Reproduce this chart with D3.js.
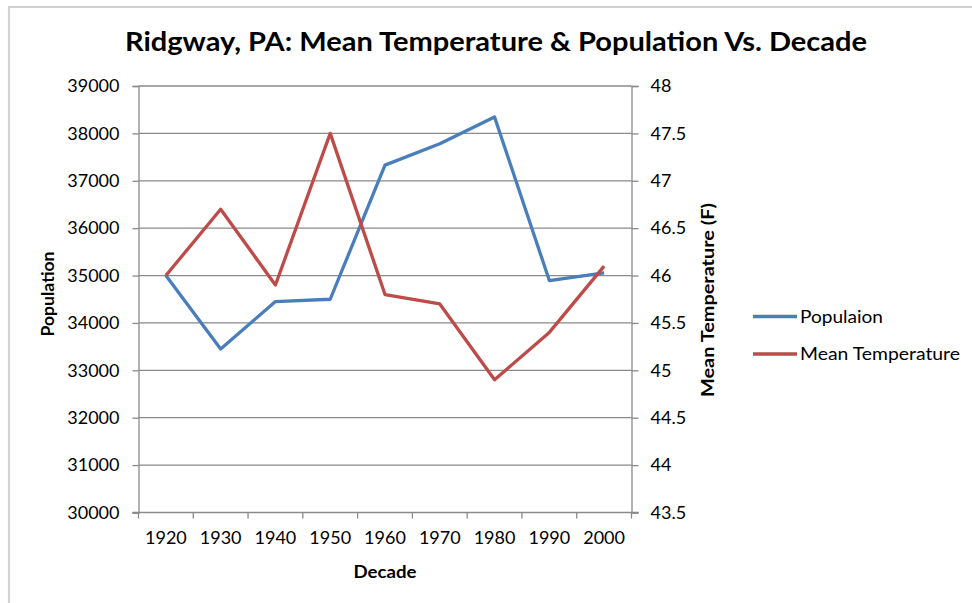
<!DOCTYPE html>
<html><head><meta charset="utf-8">
<script src="https://cdn.jsdelivr.net/npm/d3@7"></script>
<style>
html,body{margin:0;padding:0;background:#fff;}
svg{display:block;}
text{font-family:Lato,"Open Sans",sans-serif;fill:#000;}
</style></head>
<body>
<script>
const decades = ["1920","1930","1940","1950","1960","1970","1980","1990","2000"];
const population = [35000,33450,34450,34500,37330,37780,38345,34895,35058];
const meanTemp = [46.0,46.7,45.9,47.5,45.8,45.7,44.9,45.4,46.1];
const popTicks = [30000,31000,32000,33000,34000,35000,36000,37000,38000,39000];
const tempTicks = [43.5,44,44.5,45,45.5,46,46.5,47,47.5,48];
const seriesNames = ["Populaion","Mean Temperature"];
const colors = ["#4a7ebb","#be4b48"];

const W = 972, H = 603;
const svg = d3.select("body").append("svg").attr("width",W).attr("height",H);

// outer border
svg.append("path").attr("d",`M9,${H} L9,7 L${W},7`).attr("fill","none")
  .attr("stroke","#d2d2d2").attr("stroke-width",2.2);

const L = 138.5, R = 631.5, T = 86, B = 512.5;
const x = d3.scaleBand().domain(decades).range([L,R]);
const yL = d3.scaleLinear().domain([30000,39000]).range([B,T]);
const yR = d3.scaleLinear().domain([43.5,48]).range([B,T]);

const gridColor = "#8a8a8a";
const FS = "18px";
// gridlines
svg.append("g").selectAll("line").data(popTicks.slice(1)).join("line")
  .attr("x1",L).attr("x2",R).attr("y1",d=>yL(d)).attr("y2",d=>yL(d))
  .attr("stroke",gridColor).attr("stroke-width",1.3);

// left axis
const axL = svg.append("g").attr("transform",`translate(${L},0)`)
  .call(d3.axisLeft(yL).tickValues(popTicks).tickFormat(d3.format("d")).tickSize(6).tickPadding(13));
// right axis
const axR = svg.append("g").attr("transform",`translate(${R},0)`)
  .call(d3.axisRight(yR).tickValues(tempTicks).tickFormat(d=>String(d)).tickSize(7).tickPadding(12));
// bottom axis
const xTickPos = d3.range(decades.length+1).map(i=>L + i*x.step());
const axB = svg.append("g");
axB.append("line").attr("x1",L-6).attr("x2",R+7).attr("y1",B).attr("y2",B)
  .attr("stroke",gridColor).attr("stroke-width",1.3);
axB.selectAll("line.t").data(xTickPos).join("line").attr("class","t")
  .attr("x1",d=>d).attr("x2",d=>d).attr("y1",B).attr("y2",B+6)
  .attr("stroke",gridColor).attr("stroke-width",1.3);
axB.selectAll("text").data(decades).join("text")
  .attr("x",d=>x(d)+x.bandwidth()/2).attr("y",538).attr("dy","0.35em")
  .attr("text-anchor","middle").style("font-size",FS).text(d=>d);

[axL,axR].forEach(g=>{
  g.select(".domain").attr("stroke",gridColor).attr("stroke-width",1.3);
  g.selectAll(".tick line").attr("stroke",gridColor).attr("stroke-width",1.3);
  g.selectAll(".tick text").style("font-size",FS).attr("fill","#000").style("font-family","Lato,sans-serif");
});

// lines
const lineL = d3.line().x((d,i)=>x(decades[i])+x.bandwidth()/2).y(d=>yL(d));
const lineR = d3.line().x((d,i)=>x(decades[i])+x.bandwidth()/2).y(d=>yR(d));
svg.append("path").datum(population).attr("d",lineL).attr("fill","none")
  .attr("stroke",colors[0]).attr("stroke-width",3.3).attr("stroke-linejoin","round");
svg.append("path").datum(meanTemp).attr("d",lineR).attr("fill","none")
  .attr("stroke",colors[1]).attr("stroke-width",3.3).attr("stroke-linejoin","round");

// title
svg.append("text").attr("x",496).attr("y",51).attr("text-anchor","middle")
  .style("font-size","26px").style("font-weight","bold")
  .attr("textLength",742).attr("lengthAdjust","spacingAndGlyphs")
  .text("Ridgway, PA: Mean Temperature & Population Vs. Decade");

// axis titles
svg.append("text").attr("transform","translate(48,294) rotate(-90)").attr("dy","0.35em")
  .attr("text-anchor","middle").style("font-size","16.5px").style("font-weight","bold")
  .attr("textLength",85).attr("lengthAdjust","spacingAndGlyphs").text("Population");
svg.append("text").attr("transform","translate(708,300) rotate(-90)").attr("dy","0.35em")
  .attr("text-anchor","middle").style("font-size","16.5px").style("font-weight","bold")
  .attr("textLength",194).attr("lengthAdjust","spacingAndGlyphs").text("Mean Temperature (F)");
svg.append("text").attr("x",385).attr("y",572).attr("dy","0.35em")
  .attr("text-anchor","middle").style("font-size","16.5px").style("font-weight","bold")
  .attr("textLength",63).attr("lengthAdjust","spacingAndGlyphs").text("Decade");

// legend
const legY = [316.5,354];
const legLen = [83,160];
const leg = svg.append("g");
seriesNames.forEach((n,i)=>{
  leg.append("line").attr("x1",753).attr("x2",797).attr("y1",legY[i]).attr("y2",legY[i])
    .attr("stroke",colors[i]).attr("stroke-width",3.3);
  leg.append("text").attr("x",800).attr("y",legY[i]).attr("dy","0.35em")
    .style("font-size","18px").attr("textLength",legLen[i]).attr("lengthAdjust","spacingAndGlyphs").text(n);
});
</script>
</body></html>
